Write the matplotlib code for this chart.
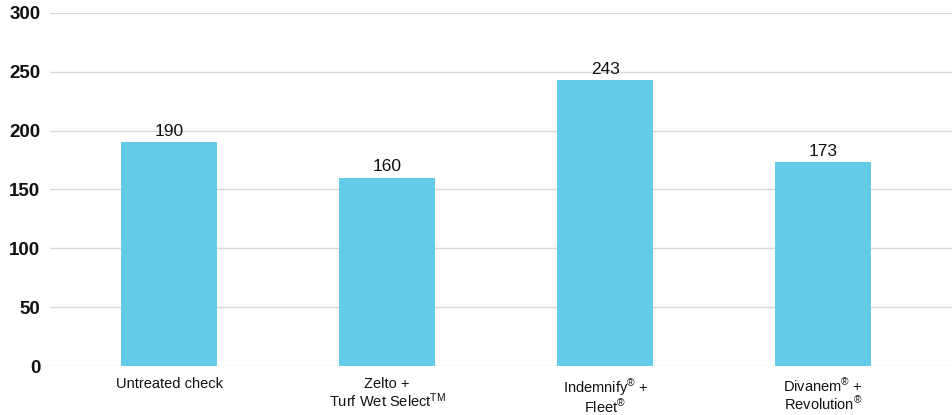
import matplotlib
matplotlib.use("Agg")
import matplotlib.pyplot as plt

categories = ["Untreated check",
              "Zelto +\nTurf Wet Select$^{\\mathrm{TM}}$",
              "Indemnify$^{\\circledR}$ +\nFleet$^{\\circledR}$",
              "Divanem$^{\\circledR}$ +\nRevolution$^{\\circledR}$"]
values = [190, 160, 243, 173]
yticks = [0, 50, 100, 150, 200, 250, 300]

plt.rcParams['font.family'] = ['Liberation Sans', 'DejaVu Sans']
plt.rcParams['mathtext.fontset'] = 'custom'
plt.rcParams['mathtext.rm'] = 'Liberation Sans'
plt.rcParams['mathtext.it'] = 'Liberation Sans:italic'
plt.rcParams['mathtext.bf'] = 'Liberation Sans:bold'

fig = plt.figure(figsize=(9.52, 4.15), dpi=100)
ax = fig.add_axes([50/952, 49/415, 902/952, 353/415])

x = list(range(len(categories)))
ax.bar(x, values, width=0.44, color="#62CBE8", zorder=3)
for xi, v in zip(x, values):
    ax.text(xi, v + 3, str(v), ha="center", va="bottom", fontsize=12.5, color="#111111")

ax.set_xlim(-0.546, 3.59)
ax.set_ylim(0, 300)
ax.set_yticks(yticks)
ax.set_yticklabels([str(t) for t in yticks], fontsize=13.5, fontweight="bold", color="#111111")
ax.set_xticks(x)
ax.set_xticklabels(categories, fontsize=10.5, color="#111111", linespacing=1.05)
ax.tick_params(axis="both", length=0)
ax.tick_params(axis="x", pad=8)
ax.tick_params(axis="y", pad=7)
ax.grid(axis="y", color="#d9d9d9", linewidth=1, zorder=0)
ax.set_axisbelow(True)
for s in ax.spines.values():
    s.set_visible(False)

fig.savefig("out.png", dpi=100)
